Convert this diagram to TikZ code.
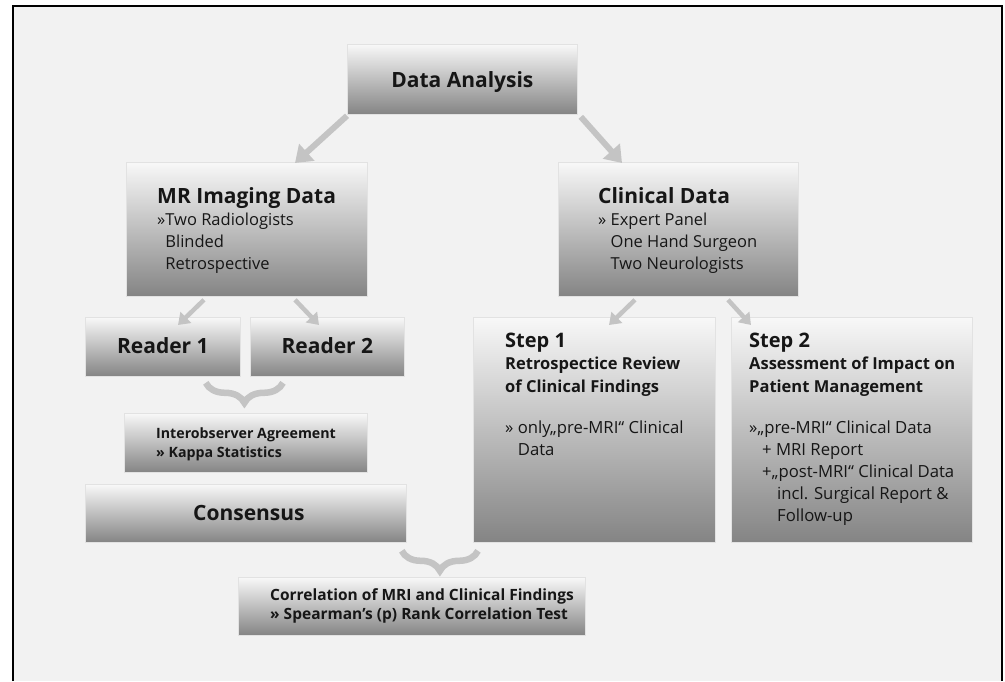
\documentclass[tikz,border=0pt]{standalone}
\usepackage{fontspec}
\setmainfont{Open Sans}
\usetikzlibrary{arrows.meta,decorations.pathreplacing,calc}
\definecolor{bg}{HTML}{F2F2F2}
\definecolor{arr}{HTML}{C4C4C4}
\definecolor{btop}{HTML}{F8F8F8}
\definecolor{bbot}{HTML}{848484}
\definecolor{bline}{HTML}{E2E2E2}
\definecolor{ink}{HTML}{161616}
\begin{document}
\begin{tikzpicture}[x=1pt,y=-1pt,
  box/.style={rectangle, draw=bline, line width=0.8pt, top color=btop, bottom color=bbot, inner sep=0pt, anchor=north west},
  bigarrow/.style={draw=arr, line width=6pt, -{Triangle[width=22pt,length=16pt]}},
  smallarrow/.style={draw=arr, line width=4.5pt, -{Triangle[width=15pt,length=11pt]}},
  gbrace/.style={draw=arr, line width=6.5pt, decorate, decoration={brace, mirror, amplitude=20pt}},
  txt/.style={inner sep=0pt, text=ink, align=left, anchor=base west},
  big/.style={font=\fontsize{21}{25}\selectfont\bfseries},
  body/.style={font=\fontsize{16.5}{22}\selectfont},
  stitle/.style={font=\fontsize{20}{23}\selectfont\bfseries},
  ssub/.style={font=\fontsize{16.5}{23}\selectfont\bfseries},
  sbody/.style={font=\fontsize{16.7}{22}\selectfont},
  small/.style={font=\fontsize{14.2}{19}\selectfont\bfseries},
  smallb/.style={font=\fontsize{15.5}{19}\selectfont\bfseries}
]
\useasboundingbox (0,0) rectangle (1005,681);
\fill[white] (0,0) rectangle (1005,681);
\fill[bg] (13,6) rectangle (1002,681);
\draw[black, line width=2pt] (13,681) -- (13,6) -- (1002,6) -- (1002,681);

% boxes
\node[box, minimum width=230pt, minimum height=70pt] (da) at (347,44) {};
\node[box, minimum width=241pt, minimum height=134pt] (mr) at (126,162) {};
\node[box, minimum width=240pt, minimum height=134pt] (cl) at (558,162) {};
\node[box, minimum width=155pt, minimum height=59pt] (r1) at (85,317) {};
\node[box, minimum width=154pt, minimum height=59pt] (r2) at (250,317) {};
\node[box, minimum width=242pt, minimum height=225pt] (s1) at (473,317) {};
\node[box, minimum width=241pt, minimum height=225pt] (s2) at (731,317) {};
\node[box, minimum width=243pt, minimum height=59pt] (io) at (124,413) {};
\node[box, minimum width=321pt, minimum height=58pt] (cs) at (85,484) {};
\node[box, minimum width=347pt, minimum height=58pt] (co) at (238,577) {};

% texts (multi-line nodes: base = last line)
\node[txt, big, anchor=base] (tda) at ($(da.north)+(0,43)$) {Data Analysis};
\node[txt, big] (tmr) at ($(mr.north west)+(31,41)$) {MR Imaging Data};
\node[txt, body] (bmr) at ($(mr.north west)+(31,107)$) {»Two Radiologists\\\phantom{»}Blinded\\\phantom{»}Retrospective};
\node[txt, big] (tcl) at ($(cl.north west)+(40,41)$) {Clinical Data};
\node[txt, body] (bcl) at ($(cl.north west)+(40,107)$) {» Expert Panel\\\phantom{» }One Hand Surgeon\\\phantom{» }Two Neurologists};
\node[txt, big, anchor=base] (tr1) at ($(r1.north)+(0,36)$) {Reader 1};
\node[txt, big, anchor=base] (tr2) at ($(r2.north)+(0,36)$) {Reader 2};
\node[txt, stitle] (ts1) at ($(s1.north west)+(32,30)$) {Step 1};
\node[txt, ssub] (us1) at ($(s1.north west)+(32,75)$) {Retrospectice Review\\of Clinical Findings};
\node[txt, sbody] (bs1) at ($(s1.north west)+(32,138)$) {» only„pre-MRI“ Clinical\\\phantom{» }Data};
\node[txt, stitle] (ts2) at ($(s2.north west)+(18,30)$) {Step 2};
\node[txt, ssub] (us2) at ($(s2.north west)+(18,75)$) {Assessment of Impact on\\Patient Management};
\node[txt, sbody] (bs2) at ($(s2.north west)+(18,204)$) {»„pre-MRI“ Clinical Data\\\hspace*{13pt}+ MRI Report\\\hspace*{13pt}+„post-MRI“ Clinical Data\\\hspace*{28pt}incl. Surgical Report \&\\\hspace*{28pt}Follow-up};
\node[txt, small] (tio) at ($(io.north west)+(32,44)$) {Interobserver Agreement\\» Kappa Statistics};
\node[txt, big, anchor=base] (tcs) at ($(cs.north)+(3,36)$) {Consensus};
\node[txt, smallb] (tco) at ($(co.north west)+(32,42)$) {Correlation of MRI and Clinical Findings\\» Spearman’s (p) Rank Correlation Test};

% arrows
\draw[bigarrow] ($(da.south west)+(0,1)$) -- ($(mr.north west)+(169,1)$);
\draw[bigarrow] ($(da.south east)+(3,2)$) -- ($(cl.north west)+(64,1)$);
\draw[smallarrow] ($(mr.south west)+(78,3)$) -- ($(r1.north west)+(93,8)$);
\draw[smallarrow] ($(mr.south west)+(169,3)$) -- ($(r2.north west)+(69,8)$);
\draw[smallarrow] ($(cl.south west)+(77,3)$) -- ($(s1.north west)+(136,8)$);
\draw[smallarrow] ($(cl.south west)+(170,3)$) -- ($(s2.north west)+(20,8)$);

% braces
\coordinate (b1a) at ($(r1.south east)+(-35,6)$);
\coordinate (b1b) at ($(r2.south west)+(33,6)$);
\draw[gbrace] (b1a) -- (b1b);
\coordinate (b2a) at ($(cs.south east)+(-5,8)$);
\coordinate (b2b) at ($(s1.south west)+(5,8)$);
\draw[gbrace] (b2a) -- (b2b);
\end{tikzpicture}
\end{document}
